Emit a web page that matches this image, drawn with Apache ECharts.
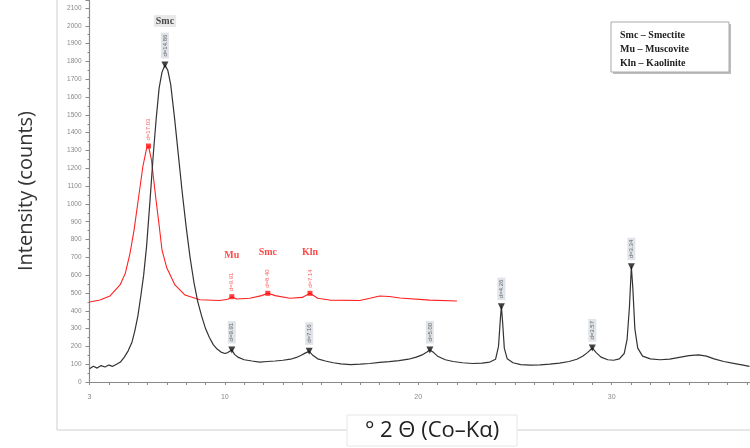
<!DOCTYPE html>
<html><head><meta charset="utf-8">
<script src="https://cdn.jsdelivr.net/npm/echarts@6/dist/echarts.min.js"></script>
<style>html,body{margin:0;padding:0;background:#fff}#c{width:750px;height:448px}</style>
</head><body><div id="c"></div>
<script>
// ---- data ----
const blackAngles = [3.0,3.2,3.4,3.6,3.8,4.0,4.2,4.4,4.6,4.8,5.0,5.2,5.35,5.5,5.65,5.8,5.95,6.13,6.3,6.45,6.6,6.75,6.9,7.05,7.2,7.4,7.6,7.8,8.0,8.2,8.4,8.6,8.8,9.0,9.2,9.4,9.6,9.8,10.0,10.15,10.25,10.36,10.5,10.7,11.0,11.4,11.8,12.2,12.6,13.0,13.4,13.7,13.95,14.15,14.36,14.55,14.8,15.2,15.6,16.0,16.5,17.0,17.5,18.0,18.5,19.0,19.5,19.9,20.2,20.45,20.6,20.8,21.0,21.4,21.8,22.3,22.8,23.3,23.7,24.0,24.15,24.25,24.3,24.36,24.45,24.6,24.9,25.3,25.8,26.3,26.8,27.3,27.8,28.2,28.5,28.75,29.0,29.2,29.45,29.8,30.1,30.4,30.65,30.8,30.92,31.02,31.1,31.2,31.35,31.6,32.0,32.5,33.0,33.5,34.0,34.5,34.9,35.3,35.8,36.3,36.8,37.13];
const blackCounts = [75,88,78,92,84,95,88,100,112,140,175,225,290,370,480,600,760,1020,1280,1480,1650,1740,1780,1750,1670,1480,1270,1060,870,700,560,450,370,300,250,210,185,168,160,165,172,180,155,138,125,118,112,115,118,122,128,138,150,162,172,150,130,118,108,102,98,100,104,110,114,120,128,140,152,168,180,165,145,125,115,108,104,106,112,128,200,360,423,340,190,130,108,98,95,96,100,106,115,128,145,165,191,165,140,125,122,130,160,240,420,647,520,300,190,145,130,125,128,138,148,152,145,130,115,105,95,88];
const redAngles = [3.0,3.54,4.06,4.58,4.85,5.09,5.3,5.52,5.76,5.95,6.05,6.2,6.44,6.6,6.75,7.0,7.42,7.94,8.71,9.74,10.15,10.36,10.6,11.29,11.9,12.22,12.6,13.36,14.0,14.4,14.8,15.42,16.98,17.5,18.01,18.5,19.05,20.6,22.0];
const redCounts = [449,460,483,545,610,720,850,1022,1210,1310,1325,1250,1022,880,741,640,545,488,462,458,465,479,466,470,485,498,485,470,475,498,470,460,458,470,483,480,472,460,455];
const blackPeakAngles = [6.9,10.36,14.36,20.6,24.3,29.0,31.02];
const blackPeakCounts = [1780,180,172,180,423,191,647];
const blackPeakLabels = ['d=14.86','d=9.91','d=7.16','d=5.00','d=4.26','d=3.57','d=3.34'];
const blackPeakMinerals = ['Smc','','','','','',''];
const redPeakAngles = [6.05,10.36,12.22,14.4];
const redPeakCounts = [1325,479,498,498];
const redPeakLabels = ['d=17.03','d=9.91','d=8.40','d=7.14'];
const redPeakMinerals = ['','Mu','Smc','Kln'];
const xTickLabels = [3,10,20,30];
const legendLines = ['Smc \u2013 Smectite','Mu \u2013 Muscovite','Kln \u2013 Kaolinite'];
const xTitle = '\u00b0 2 \u0398 (Co\u2013K\u03b1)';
const yTitle = 'Intensity (counts)';

const pairs = (a, b) => a.map((v, i) => [v, b[i]]);
const minerals = (a, b, n) => a.map((v, i) => ({value: [v, b[i]], name: n[i]})).filter(d => d.name);

const chart = echarts.init(document.getElementById('c'));
chart.setOption({
  animation: false,
  backgroundColor: '#fff',
  grid: {left: 89.5, right: 0, top: 0, bottom: 66},
  xAxis: {
    type: 'value', min: 3, max: 37.13, interval: 1,
    axisLine: {lineStyle: {color: '#8a8a8a', width: 1.2}},
    axisTick: {length: 3, lineStyle: {color: '#8a8a8a'}},
    splitLine: {show: false},
    axisLabel: {showMaxLabel: false, fontSize: 7, color: '#888', margin: 12, fontFamily: 'Liberation Sans',
      formatter: v => xTickLabels.includes(Math.round(v * 100) / 100) ? String(v) : ''}
  },
  yAxis: {
    type: 'value', min: 0, max: 2145, interval: 100,
    name: yTitle, nameLocation: 'middle', nameGap: 53,
    nameTextStyle: {fontSize: 20, color: '#333', fontFamily: 'Open Sans'},
    axisLine: {show: true, lineStyle: {color: '#8a8a8a', width: 1.2}},
    axisTick: {show: true, length: 4, lineStyle: {color: '#8a8a8a'}},
    minorTick: {show: true, splitNumber: 2, length: 2, lineStyle: {color: '#8a8a8a'}},
    splitLine: {show: false},
    axisLabel: {showMaxLabel: false, fontSize: 6.5, color: '#888', margin: 8, fontFamily: 'Liberation Sans',
      formatter: v => String(v)}
  },
  series: [
    {type: 'line', data: pairs(blackAngles, blackCounts), showSymbol: false, silent: true,
      lineStyle: {color: '#333', width: 1.2}, z: 3},
    {type: 'line', data: pairs(redAngles, redCounts), showSymbol: false, silent: true,
      lineStyle: {color: '#ff2020', width: 1.1}, z: 2},
    {type: 'scatter', data: pairs(blackPeakAngles, blackPeakCounts), symbol: 'triangle', symbolRotate: 180,
      symbolSize: 7, itemStyle: {color: '#111'}, z: 5, silent: true,
      label: {show: true, position: 'top', distance: 3, rotate: 90, align: 'left', verticalAlign: 'middle',
        formatter: p => blackPeakLabels[p.dataIndex], fontSize: 6, color: '#444',
        backgroundColor: '#d8dde3', padding: [1, 2], fontFamily: 'Liberation Sans'}},
    {type: 'scatter', data: pairs(redPeakAngles, redPeakCounts), symbol: 'rect',
      symbolSize: 5, itemStyle: {color: '#ff1010'}, z: 5, silent: true,
      label: {show: true, position: 'top', distance: 3, rotate: 90, align: 'left', verticalAlign: 'middle',
        formatter: p => redPeakLabels[p.dataIndex], fontSize: 6, color: '#ff3030', fontFamily: 'Liberation Sans'}},
    {type: 'scatter', data: minerals(blackPeakAngles, blackPeakCounts, blackPeakMinerals), symbolSize: 0, silent: true,
      label: {show: true, position: 'top', distance: 38, formatter: '{b}', fontSize: 10, fontWeight: 'bold',
        fontFamily: 'Liberation Serif', color: '#222', backgroundColor: '#e4e4e4', padding: [1, 2]}},
    {type: 'scatter', data: minerals(redPeakAngles, redPeakCounts, redPeakMinerals), symbolSize: 0, silent: true,
      label: {show: true, position: 'top', distance: 36, formatter: '{b}', fontSize: 10, fontWeight: 'bold',
        fontFamily: 'Liberation Serif', color: '#ff1a1a'}}
  ],
  graphic: [
    {type: 'line', shape: {x1: 57, y1: 0, x2: 57, y2: 430}, style: {stroke: '#cfcfcf', lineWidth: 1}, z: 0},
    {type: 'line', shape: {x1: 57, y1: 430, x2: 750, y2: 430}, style: {stroke: '#cfcfcf', lineWidth: 1}, z: 0},
    {type: 'rect', shape: {x: 347, y: 415, width: 170, height: 31}, style: {fill: '#fff', stroke: '#e6e6e6'}, z: 10},
    {type: 'text', x: 432, y: 431, style: {text: xTitle, fill: '#222', fontSize: 22, fontFamily: 'Open Sans',
      align: 'center', verticalAlign: 'middle'}, z: 11},
    {type: 'rect', shape: {x: 613, y: 24, width: 118, height: 50}, style: {fill: '#bdbdbd'}, z: 10},
    {type: 'rect', shape: {x: 611, y: 22, width: 118, height: 50}, style: {fill: '#fff', stroke: '#aaa', lineWidth: 1}, z: 11},
    ...legendLines.map((t, i) => ({type: 'text', x: 620, y: 35 + i * 14,
      style: {text: t, fill: '#222', fontSize: 10, fontWeight: 'bold', fontFamily: 'Liberation Serif',
        verticalAlign: 'middle'}, z: 12}))
  ]
});
</script></body></html>
